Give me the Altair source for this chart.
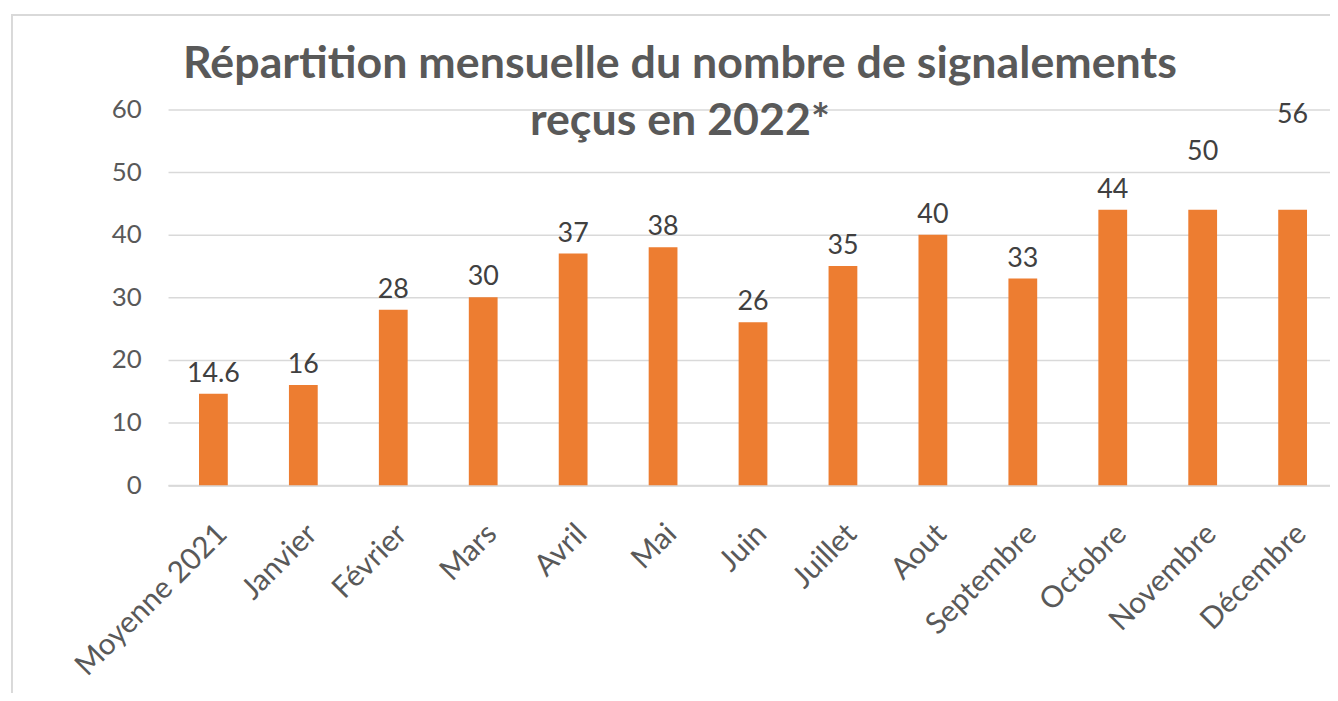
import altair as alt
import pandas as pd

categories = ["Moyenne 2021", "Janvier", "Février", "Mars", "Avril", "Mai", "Juin",
              "Juillet", "Aout", "Septembre", "Octobre", "Novembre", "Décembre"]
bar_values = [14.6, 16, 28, 30, 37, 38, 26, 35, 40, 33, 44, 44, 44]
label_values = [14.6, 16, 28, 30, 37, 38, 26, 35, 40, 33, 44, 50, 56]
label_texts = ["14.6", "16", "28", "30", "37", "38", "26", "35", "40", "33", "44", "50", "56"]
y_ticks = [0, 10, 20, 30, 40, 50, 60]
title_lines = ["Répartition mensuelle du nombre de signalements", "reçus en 2022*"]

df = pd.DataFrame({"cat": categories, "bar": bar_values,
                   "lab": label_values, "txt": label_texts})

FONT = "Lato"
x_enc = alt.X("cat:N", sort=categories, title=None,
              scale=alt.Scale(paddingInner=0.68, paddingOuter=0.3, align=0.574),
              axis=alt.Axis(labelAngle=-45, labelAlign="right", labelBaseline="middle",
                            labelFontSize=30, labelColor="#595959", labelFont=FONT,
                            labelPadding=44, labelOffset=9, ticks=False, labelLimit=0,
                            domainColor="#D9D9D9", domainWidth=2, grid=False,
                            labelOverlap=False))

bars = alt.Chart(df).mark_bar(color="#ED7D31").encode(
    x=x_enc,
    y=alt.Y("bar:Q", title=None,
            scale=alt.Scale(domain=[0, 60], nice=False),
            axis=alt.Axis(values=y_ticks, labelFontSize=26, labelColor="#595959",
                          labelFont=FONT, labelPadding=27, ticks=False, domain=False,
                          gridColor="#D9D9D9", gridWidth=1.5, labelBaseline="middle")),
)

labels = alt.Chart(df).mark_text(baseline="alphabetic", dy=-12, fontSize=27,
                                 font=FONT, color="#404040").encode(
    x=alt.X("cat:N", sort=categories),
    y=alt.Y("lab:Q"),
    text="txt:N",
)

border = alt.Chart(df.head(1)).mark_rect(fill=None, stroke="#D9D9D9", strokeWidth=2).encode(
    x=alt.value(-157), x2=alt.value(1300), y=alt.value(-95), y2=alt.value(700)
)

title = alt.Chart(df.head(1)).mark_text(
    text=title_lines, fontSize=45, font=FONT, fontWeight="bold", color="#595959",
    align="center", baseline="alphabetic", lineHeight=58,
).encode(x=alt.value(515), y=alt.value(-32))

chart = alt.layer(border, bars, labels, title).properties(
    width=1169, height=378,
    autosize=alt.AutoSizeParams(type="none"),
    padding={"left": 161, "top": 100, "right": 0, "bottom": 207},
).configure_view(stroke=None)

chart.save("out.html", embed_options={"renderer": "svg", "actions": False})
